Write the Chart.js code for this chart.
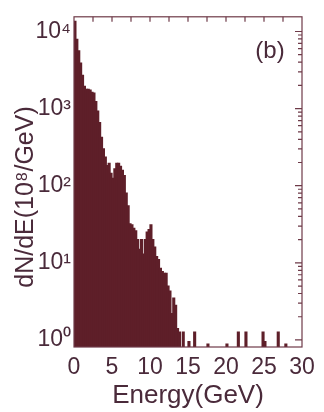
<!DOCTYPE html>
<html lang="en">
<head>
<meta charset="UTF-8">
<title>dN/dE spectrum</title>
<script src="https://cdn.jsdelivr.net/npm/chart.js"></script>
<style>
  body { margin: 0; background: #fff; }
</style>
</head>
<body>
<canvas id="myChart" width="324" height="412"></canvas>
<script>
// histogram, 0.25 GeV bins from 0 to 30 GeV
const binWidth = 0.25;
const nBins = 120;
// main body of the spectrum (bins 0..55)
const bodyCounts = [
  13500, 7900, 5600, 3900, 2700, 1950, 1780, 1780, 1740, 1620,
  1590, 1230, 930, 660, 425, 300, 235, 182, 195, 145,
  125, 166, 195, 195, 178, 158, 135, 80, 55, 32,
  31, 28, 26, 20, 15, 20, 13, 20, 25, 27,
  31, 20, 16, 12, 11, 8.5, 7.7, 7.3, 7.3, 5,
  4.3, 2.2, 3.5, 2.8, 1.4, 1.26
];
// isolated high energy entries
const tailBins = [57, 60, 63, 70, 80, 86, 90, 99, 100, 107, 111];
const tailCounts = [1.26, 0.95, 1.26, 0.88, 0.88, 1.26, 1.26, 1.26, 0.95, 1.26, 0.88];

const yTicks = [1, 10, 100, 1000, 10000];
const yTickLabels = ['10⁰', '10¹', '10²', '10³', '10⁴'];

const barColor = '#5e1f29';
const axisColor = '#6e3a48';
const textColor = '#4a2a3a';
const font = 'Liberation Sans, Arial, sans-serif';

let counts = new Array(nBins).fill(null);
bodyCounts.forEach((c, i) => counts[i] = c);
tailBins.forEach((b, i) => counts[b] = tailCounts[i]);
const data = counts.map((c, i) => ({ x: (i + 0.5) * binWidth, y: c }));

const frame = {
  id: 'frame',
  afterDatasetsDraw(chart) {
    const { ctx, chartArea: a, scales: { x, y } } = chart;
    ctx.save();
    ctx.strokeStyle = axisColor;
    ctx.lineWidth = 1.2;
    ctx.strokeRect(a.left, a.top, a.right - a.left, a.bottom - a.top);
    ctx.beginPath();
    for (let v = 2.5; v < 30; v += 2.5) {
      const px = x.getPixelForValue(v);
      ctx.moveTo(px, a.top);
      ctx.lineTo(px, a.top + 5);
    }
    for (let d = 0; d <= 4; d++) {
      for (let m = 1; m < 10; m++) {
        const v = m * Math.pow(10, d);
        if (v < y.min || v > y.max) continue;
        const py = y.getPixelForValue(v);
        ctx.moveTo(a.right, py);
        ctx.lineTo(a.right - (m === 1 ? 7 : 4), py);
      }
    }
    ctx.stroke();

    ctx.fillStyle = textColor;
    ctx.font = '24px ' + font;
    ctx.textAlign = 'center';
    ctx.textBaseline = 'middle';
    ctx.fillText('(b)', a.right - 32, a.top + 35);

    ctx.font = '25px ' + font;
    ctx.translate(26, 197);
    ctx.rotate(-Math.PI / 2);
    ctx.fillText('dN/dE(10⁸/GeV)', 0, 0);
    ctx.restore();
  }
};

const ctx = document.getElementById('myChart').getContext('2d');
new Chart(ctx, {
  type: 'bar',
  data: {
    datasets: [{
      data: data,
      backgroundColor: barColor,
      borderWidth: 0,
      inflateAmount: 0.6,
      barPercentage: 1,
      categoryPercentage: 1
    }]
  },
  options: {
    responsive: false,
    animation: false,
    layout: { padding: { top: 10, right: 22, left: 0, bottom: 0 } },
    plugins: { legend: { display: false }, tooltip: { enabled: false } },
    scales: {
      x: {
        type: 'linear',
        min: 0,
        max: 30,
        offset: false,
        grid: { display: false, drawTicks: false },
        border: { display: false },
        ticks: { stepSize: 5, padding: 7, color: textColor, font: { family: font, size: 23 }, maxRotation: 0 },
        title: { display: true, text: 'Energy(GeV)', color: textColor, font: { family: font, size: 26 }, padding: { top: 0, bottom: 1 } },
        afterFit: s => { s.height = 65; }
      },
      y: {
        type: 'logarithmic',
        min: 0.81,
        max: 15500,
        grid: { display: false, drawTicks: false },
        border: { display: false },
        afterBuildTicks: s => { s.ticks = yTicks.map(v => ({ value: v })); },
        ticks: {
          padding: 3,
          color: textColor,
          font: { family: font, size: 23 },
          callback: v => yTickLabels[yTicks.indexOf(v)]
        },
        afterFit: s => { s.width = 74; }
      }
    }
  },
  plugins: [frame]
});
</script>
</body>
</html>
